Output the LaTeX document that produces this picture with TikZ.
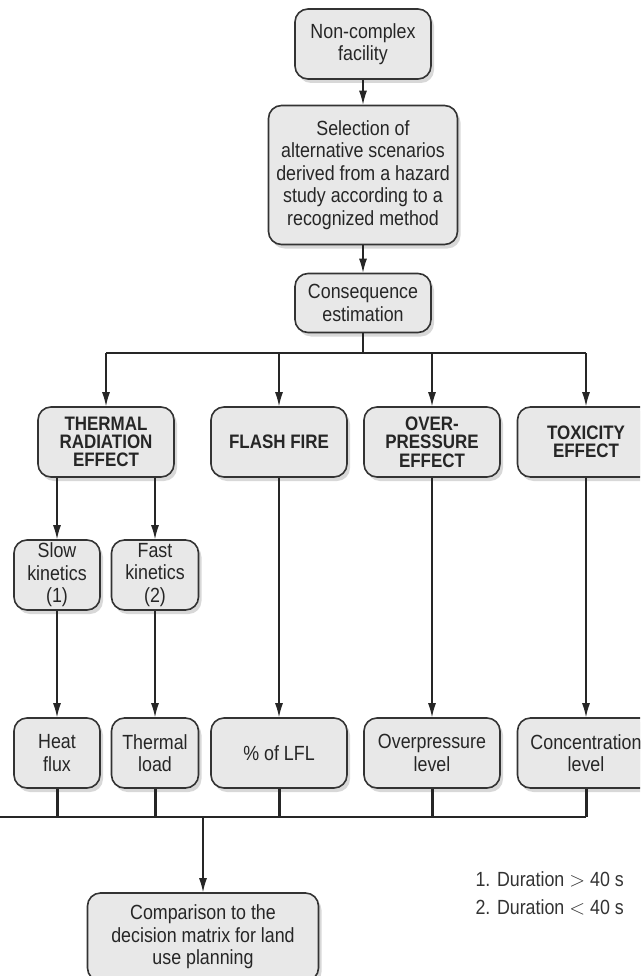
\documentclass[tikz,border=0pt]{standalone}
\usepackage{fontspec}
\setmainfont{Liberation Sans}[FakeStretch=0.87]
\usetikzlibrary{arrows.meta,shadows}

\begin{document}
\begin{tikzpicture}[x=1pt,y=-1pt,
  box/.style={draw=black!80,line width=1.6pt,fill=black!9,rounded corners=13pt,
    align=center,text=black!85,inner sep=0pt,
    drop shadow={shadow xshift=3pt,shadow yshift=-4pt,fill=black!30,opacity=0.5},
    font=\fontsize{20.5}{22.5}\selectfont},
  head/.style={box,font=\fontsize{19.5}{18.3}\selectfont\bfseries},
  arr/.style={-{Latex[length=14pt,width=8pt]},line width=1.2pt,draw=black!85},
  stub/.style={line width=3pt,draw=black!85}]
\clip (0,0) rectangle (640,976);
% main chain
\node[box,minimum width=136pt,minimum height=70pt] (fac) at (363,44) {Non-complex\\facility};
\node[box,minimum width=189pt,minimum height=139pt] (sel) at (363,175)
  {Selection of\\alternative scenarios\\derived from a hazard\\study according to a\\recognized method};
\node[box,minimum width=136pt,minimum height=59pt] (cons) at (363,303) {Consequence\\estimation};
% effects
\node[head,minimum width=136pt,minimum height=70pt] (therm) at (106,442) {THERMAL\\RADIATION\\EFFECT};
\node[head,minimum width=136pt,minimum height=70pt] (flash) at (279,442) {FLASH FIRE};
\node[head,minimum width=136pt,minimum height=70pt] (over) at (432,442) {OVER-\\PRESSURE\\EFFECT};
\node[head,minimum width=137pt,minimum height=70pt] (tox) at (586,442) {TOXICITY\\EFFECT};
\node[box,minimum width=86pt,minimum height=70pt] (slow) at (57,575) {Slow\\kinetics\\(1)};
\node[box,minimum width=87pt,minimum height=70pt] (fast) at (155,575) {Fast\\kinetics\\(2)};
% measures
\node[box,minimum width=86pt,minimum height=70pt] (heat) at (57,753) {Heat\\flux};
\node[box,minimum width=87pt,minimum height=70pt] (tload) at (155,753) {Thermal\\load};
\node[box,minimum width=136pt,minimum height=70pt] (lfl) at (279,753) {\% of LFL};
\node[box,minimum width=136pt,minimum height=70pt] (olev) at (432,753) {Overpressure\\level};
\node[box,minimum width=137pt,minimum height=70pt] (conc) at (586,753) {Concentration\\level};
\node[box,minimum width=231pt,minimum height=88pt] (comp) at (203,937)
  {Comparison to the\\decision matrix for land\\use planning};
\node[anchor=west,align=left,text=black!80,font=\fontsize{20.5}{28}\selectfont] (note) at (472,893)
  {1. Duration $>$ 40 s\\2. Duration $<$ 40 s};
% connectors
\draw[arr] (fac.south) -- (sel.north);
\draw[arr] (sel.south) -- (cons.north);
\coordinate (split) at (363,353);
\draw[line width=1.2pt,draw=black!85] (cons.south) -- (split);
\draw[line width=1.2pt,draw=black!85] (therm.north |- split) -- (tox.north |- split);
\foreach \n in {therm,flash,over,tox}
  \draw[arr] (\n.north |- split) -- (\n.north);
\draw[arr] (slow |- therm.south) -- (slow.north);
\draw[arr] (fast |- therm.south) -- (fast.north);
\draw[arr] (slow.south) -- (heat.north);
\draw[arr] (fast.south) -- (tload.north);
\draw[arr] (flash.south) -- (lfl.north);
\draw[arr] (over.south) -- (olev.north);
\draw[arr] (tox.south) -- (conc.north);
\coordinate (merge) at (0,817);
\draw[line width=1.2pt,draw=black!85] (merge) -- (conc.south |- merge);
\foreach \n in {heat,tload,lfl,olev,conc}
  \draw[stub] (\n.south) -- (\n.south |- merge);
\draw[arr] (comp.north |- merge) -- (comp.north);
\end{tikzpicture}
\end{document}
